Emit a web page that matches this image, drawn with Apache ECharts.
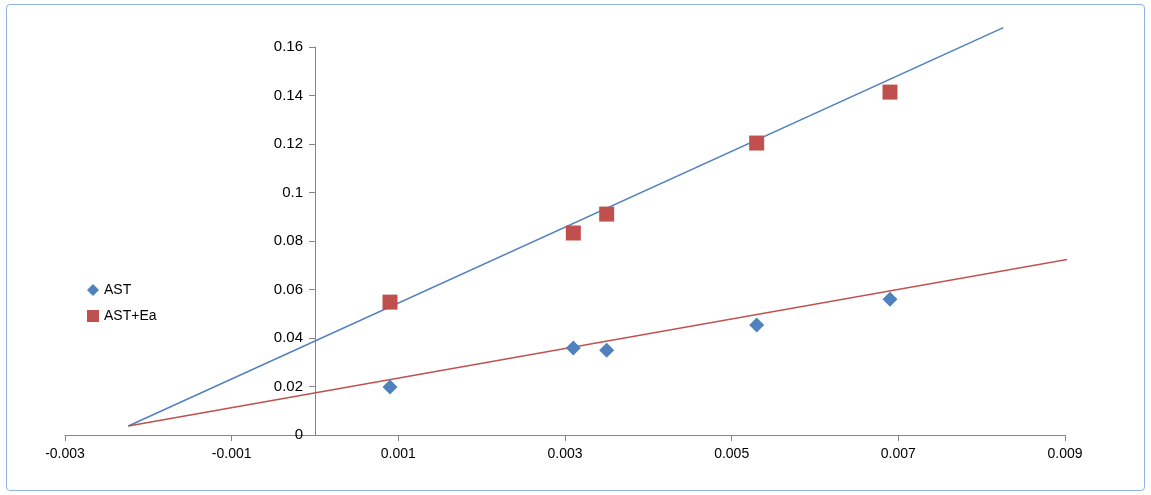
<!DOCTYPE html>
<html>
<head>
<meta charset="utf-8">
<script src="https://cdn.jsdelivr.net/npm/echarts@6/dist/echarts.min.js"></script>
<style>
html,body{margin:0;padding:0;background:#fff;}
#box{position:absolute;left:6px;top:4px;width:1137px;height:485px;border:1px solid #8db3e2;border-radius:4px;}
#chart{position:absolute;left:0;top:0;width:1151px;height:495px;}
</style>
</head>
<body>
<div id="box"></div>
<div id="chart"></div>
<script>
var astX = [0.0009, 0.0031, 0.0035, 0.0053, 0.0069];
var astY = [0.0198, 0.0359, 0.0350, 0.0454, 0.0560];
var eaX = [0.0009, 0.0031, 0.0035, 0.0053, 0.0069];
var eaY = [0.0548, 0.0833, 0.0911, 0.1204, 0.1414];
// trendline ends
var eaTrend = [[-0.00224, 0.0037], [0.00826, 0.168]];
var astTrend = [[-0.00224, 0.0037], [0.00946, 0.075]];

function pairs(xs, ys) {
	var out = [];
	for (var i = 0; i < xs.length; i++) out.push([xs[i], ys[i]]);
	return out;
}

var chart = echarts.init(document.getElementById('chart'));
chart.setOption({
	animation: false,
	textStyle: {fontFamily: 'Liberation Sans, Arial, sans-serif'},
	grid: {left: 65, right: 86, top: 47, bottom: 60},
	legend: {
		orient: 'vertical', left: 82, top: 278, itemGap: 12,
		itemWidth: 12, itemHeight: 12,
		textStyle: {fontSize: 14, color: '#000'},
		data: ['AST', 'AST+Ea']
	},
	xAxis: {
		type: 'value', min: -0.003, max: 0.009, interval: 0.002,
		splitLine: {show: false},
		axisLine: {onZero: true, lineStyle: {color: '#868686'}},
		axisTick: {show: true, length: 6, lineStyle: {color: '#868686'}},
		axisLabel: {color: '#000', fontSize: 14, margin: 12,
			formatter: function(v) { return v.toFixed(3); }}
	},
	yAxis: {
		type: 'value', min: 0, max: 0.16, interval: 0.02,
		offset: -250,
		splitLine: {show: false},
		axisLine: {show: true, onZero: false, lineStyle: {color: '#868686'}},
		axisTick: {show: true, length: 6, lineStyle: {color: '#868686'}},
		axisLabel: {color: '#000', fontSize: 15, margin: 12,
			formatter: function(v) { return String(+v.toFixed(2)); }}
	},
	series: [
		{name: 'AST', type: 'scatter', symbol: 'diamond', symbolSize: 15,
			itemStyle: {color: '#4f81bd', opacity: 1}, data: pairs(astX, astY), z: 3},
		{name: 'AST+Ea', type: 'scatter', symbol: 'rect', symbolSize: 15,
			itemStyle: {color: '#c0504d', opacity: 1}, data: pairs(eaX, eaY), z: 3},
		{type: 'line', data: eaTrend, symbol: 'none', clip: false,
			lineStyle: {color: '#4f81bd', width: 1.5}, silent: true},
		{type: 'line', data: astTrend, symbol: 'none', clip: false,
			lineStyle: {color: '#c0504d', width: 1.5}, silent: true}
	]
});
</script>
</body>
</html>
